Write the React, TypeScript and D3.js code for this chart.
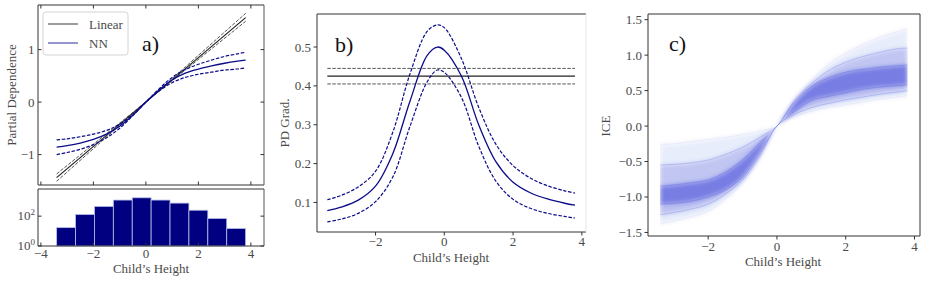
import React from "react";
import * as d3 from "d3";

// ---- data ----
const gridX = [-3.4, -3, -2.5, -2, -1.5, -1, -0.5, 0, 0.5, 1, 1.5, 2, 2.5, 3, 3.5, 3.8];

// panel a: partial dependence
const linearX = [-3.4, 3.8];
const linearMid = [-1.44, 1.61];
const linearHi = [-1.51, 1.69];
const linearLo = [-1.37, 1.54];
const nnMid = [-0.86, -0.83, -0.78, -0.71, -0.61, -0.46, -0.25, 0, 0.23, 0.42, 0.55, 0.63, 0.69, 0.74, 0.78, 0.8];
const nnHi = [-0.72, -0.7, -0.66, -0.61, -0.54, -0.42, -0.24, 0, 0.25, 0.47, 0.62, 0.72, 0.8, 0.87, 0.92, 0.95];
const nnLo = [-1.0, -0.96, -0.9, -0.81, -0.68, -0.5, -0.26, 0, 0.21, 0.37, 0.47, 0.53, 0.57, 0.61, 0.63, 0.65];

// panel a: histogram of child's height
const binEdges = [-3.4, -2.68, -1.96, -1.24, -0.52, 0.2, 0.92, 1.64, 2.36, 3.08, 3.8];
const binCounts = [17, 130, 450, 1200, 1700, 1200, 750, 250, 70, 15];

// panel b: PD gradient
const gradX = [-3.4, -3, -2.5, -2, -1.5, -1, -0.5, -0.2, 0, 0.5, 1, 1.5, 2, 2.5, 3, 3.5, 3.8];
const gradMid = [0.079, 0.088, 0.106, 0.142, 0.225, 0.36, 0.478, 0.5, 0.492, 0.425, 0.3, 0.205, 0.152, 0.125, 0.109, 0.098, 0.093];
const gradHi = [0.107, 0.118, 0.14, 0.18, 0.28, 0.43, 0.54, 0.557, 0.55, 0.47, 0.345, 0.25, 0.195, 0.163, 0.143, 0.13, 0.124];
const gradLo = [0.05, 0.057, 0.072, 0.102, 0.165, 0.295, 0.41, 0.441, 0.435, 0.37, 0.245, 0.155, 0.108, 0.085, 0.072, 0.064, 0.06];
const linGrad = [0.425, 0.445, 0.405];

// panel c: ICE spread, boundaries ordered top to bottom by value
const iceBounds = [
  [-0.26, -0.25, -0.22, -0.19, -0.16, -0.12, -0.07, 0, 0.37, 0.64, 0.87, 1.03, 1.15, 1.25, 1.33, 1.37],
  [-0.55, -0.54, -0.52, -0.48, -0.4, -0.3, -0.16, 0, 0.35, 0.6, 0.78, 0.9, 0.98, 1.04, 1.09, 1.1],
  [-0.85, -0.83, -0.8, -0.76, -0.65, -0.48, -0.24, 0, 0.33, 0.56, 0.68, 0.76, 0.8, 0.83, 0.85, 0.86],
  [-1.1, -1.09, -1.06, -1.0, -0.9, -0.72, -0.38, 0, 0.2, 0.36, 0.42, 0.47, 0.52, 0.55, 0.57, 0.58],
  [-1.25, -1.22, -1.17, -1.1, -0.96, -0.76, -0.42, 0, 0.16, 0.26, 0.32, 0.37, 0.41, 0.45, 0.48, 0.5],
  [-1.38, -1.34, -1.28, -1.2, -1.03, -0.8, -0.45, 0, 0.13, 0.21, 0.26, 0.3, 0.34, 0.38, 0.41, 0.43],
];
const iceBandAlpha = [0.09, 0.28, 0.6, 0.3, 0.1];

const ticksA = [-4, -2, 0, 2, 4];
const ticksAY = [-1, 0, 1];
const ticksBX = [-2, 0, 2, 4];
const ticksBY = [0.1, 0.2, 0.3, 0.4, 0.5];
const ticksCY = [-1.5, -1.0, -0.5, 0.0, 0.5, 1.0, 1.5];

const FONT = "Liberation Serif";
const GRAY = "#4a4a4a";
const NAVY = "#0b0b8a";
const ICEBLUE = "#1a2ad0";
const fmt = (v: number) => (v < 0 ? "\u2212" : "") + Math.abs(v);
const fmt1 = (v: number) => (v < 0 ? "\u2212" : "") + Math.abs(v).toFixed(1);
const txt = { fontFamily: FONT };

const Spines = ({ x0, x1, y0, y1, right = "#333" }: any) => (
  <g fill="none" strokeWidth={1}>
    <line x1={x0} x2={x1} y1={y0} y2={y0} stroke="#333" />
    <line x1={x0} x2={x1} y1={y1} y2={y1} stroke="#333" />
    <line x1={x0} x2={x0} y1={y0} y2={y1} stroke="#333" />
    <line x1={x1} x2={x1} y1={y0} y2={y1} stroke={right} />
  </g>
);

const PanelA = () => {
  const x = d3.scaleLinear().domain([-4.11, 4.5]).range([38, 264]);
  const y = d3.scaleLinear().domain([-1.58, 1.85]).range([185, 5]);
  const yh = d3.scaleLog().domain([1, 6600]).range([246, 189]);
  const line = d3.line<number>().x((_, i) => x(gridX[i])).y((d) => y(d)).curve(d3.curveCatmullRom);
  const lin = d3.line<number>().x((_, i) => x(linearX[i])).y((d) => y(d));
  const tl = 3.5;
  return (
    <g>
      <path d={lin(linearHi)!} fill="none" stroke="#555" strokeWidth={1} strokeDasharray="3.5,1.5" />
      <path d={lin(linearLo)!} fill="none" stroke="#555" strokeWidth={1} strokeDasharray="3.5,1.5" />
      <path d={lin(linearMid)!} fill="none" stroke="#222" strokeWidth={1.2} />
      <path d={line(nnHi)!} fill="none" stroke={NAVY} strokeWidth={1.2} strokeDasharray="3.5,1.6" />
      <path d={line(nnLo)!} fill="none" stroke={NAVY} strokeWidth={1.2} strokeDasharray="3.5,1.6" />
      <path d={line(nnMid)!} fill="none" stroke={NAVY} strokeWidth={1.3} />
      <Spines x0={38} x1={264} y0={5} y1={185} right="#555" />
      {ticksA.map((t) => (
        <g key={t} stroke="#333">
          <line x1={x(t)} x2={x(t)} y1={185} y2={185 - tl} />
          <line x1={x(t)} x2={x(t)} y1={5} y2={5 + tl} />
        </g>
      ))}
      {ticksAY.map((t) => (
        <g key={t}>
          <line x1={38} x2={38 + tl} y1={y(t)} y2={y(t)} stroke="#333" />
          <line x1={264} x2={264 - tl} y1={y(t)} y2={y(t)} stroke="#333" />
          <text x={34.5} y={y(t) + 4.5} textAnchor="end" fontSize={13} fill={GRAY} style={txt}>{fmt(t)}</text>
        </g>
      ))}
      <g>
        <rect x={43} y={12} width={85} height={43} rx={3} fill="white" fillOpacity={0.85} stroke="#d4d4d4" />
        <line x1={48} x2={78} y1={24} y2={24} stroke="#666" strokeWidth={1.3} />
        <line x1={48} x2={78} y1={43} y2={43} stroke="#5a5ab4" strokeWidth={1.3} />
        <text x={89} y={28.5} fontSize={13} fill={GRAY} style={txt}>Linear</text>
        <text x={89} y={47.5} fontSize={13} fill={GRAY} style={txt}>NN</text>
      </g>
      <text x={142} y={51} fontSize={22} fill="#111" style={txt}>a)</text>
      <text transform={`translate(16,95) rotate(-90)`} textAnchor="middle" fontSize={13} fill={GRAY} style={txt}>Partial Dependence</text>

      {binCounts.map((c, i) => (
        <rect key={i} x={x(binEdges[i])} width={x(binEdges[i + 1]) - x(binEdges[i])} y={yh(c)} height={246 - yh(c)}
          fill="#000080" stroke="#b8c0e8" strokeWidth={0.8} />
      ))}
      <Spines x0={38} x1={264} y0={189} y1={246} right="#555" />
      {ticksA.map((t) => (
        <g key={t}>
          <line x1={x(t)} x2={x(t)} y1={246} y2={246 - tl} stroke="#333" />
          <text x={x(t)} y={258} textAnchor="middle" fontSize={13} fill={GRAY} style={txt}>{fmt(t)}</text>
        </g>
      ))}
      {[0, 2].map((p) => (
        <g key={p}>
          <line x1={38} x2={38 + tl} y1={yh(10 ** p)} y2={yh(10 ** p)} stroke="#333" />
          <line x1={264} x2={264 - tl} y1={yh(10 ** p)} y2={yh(10 ** p)} stroke="#333" />
          <text x={35} y={yh(10 ** p) + 4} textAnchor="end" fontSize={13} fill={GRAY} style={txt}>
            10<tspan fontSize={9} dy={-5}>{p}</tspan>
          </text>
        </g>
      ))}
      <text x={151} y={273} textAnchor="middle" fontSize={13} fill={GRAY} style={txt}>Child’s Height</text>
    </g>
  );
};

const PanelB = () => {
  const x = d3.scaleLinear().domain([-3.7, 4.12]).range([317, 586]);
  const y = d3.scaleLinear().domain([0.024, 0.585]).range([232, 14]);
  const line = d3.line<number>().x((_, i) => x(gradX[i])).y((d) => y(d)).curve(d3.curveCatmullRom);
  return (
    <g>
      {linGrad.map((v, i) => (
        <line key={i} x1={x(-3.4)} x2={x(3.8)} y1={y(v)} y2={y(v)} stroke={i === 0 ? "#222" : "#555"}
          strokeWidth={i === 0 ? 1.2 : 1} strokeDasharray={i === 0 ? undefined : "3.5,1.5"} />
      ))}
      <path d={line(gradHi)!} fill="none" stroke={NAVY} strokeWidth={1.2} strokeDasharray="3.5,1.6" />
      <path d={line(gradLo)!} fill="none" stroke={NAVY} strokeWidth={1.2} strokeDasharray="3.5,1.6" />
      <path d={line(gradMid)!} fill="none" stroke={NAVY} strokeWidth={1.3} />
      <Spines x0={317} x1={586} y0={14} y1={232} right="#e6e6e6" />
      {ticksBX.map((t) => (
        <g key={t}>
          <line x1={x(t)} x2={x(t)} y1={232} y2={235.5} stroke="#333" />
          <text x={x(t)} y={246} textAnchor="middle" fontSize={13} fill={GRAY} style={txt}>{fmt(t)}</text>
        </g>
      ))}
      {ticksBY.map((t) => (
        <g key={t}>
          <line x1={317} x2={313.5} y1={y(t)} y2={y(t)} stroke="#333" />
          <text x={311} y={y(t) + 4.5} textAnchor="end" fontSize={13} fill={GRAY} style={txt}>{t.toFixed(1)}</text>
        </g>
      ))}
      <text x={335} y={52} fontSize={22} fill="#111" style={txt}>b)</text>
      <text transform={`translate(289,123) rotate(-90)`} textAnchor="middle" fontSize={13} fill={GRAY} style={txt}>PD Grad.</text>
      <text x={451} y={262} textAnchor="middle" fontSize={13} fill={GRAY} style={txt}>Child’s Height</text>
    </g>
  );
};

const PanelC = () => {
  const x = d3.scaleLinear().domain([-3.75, 4.16]).range([648, 920]);
  const y = d3.scaleLinear().domain([-1.55, 1.58]).range([236, 14]);
  const line = d3.line<number>().x((_, i) => x(gridX[i])).y((d) => y(d)).curve(d3.curveCatmullRom);
  const area = (top: number[], bot: number[]) =>
    d3.area<number>().x((_, i) => x(gridX[i])).y0((_, i) => y(bot[i])).y1((d) => y(d)).curve(d3.curveCatmullRom)(top)!;
  const x0 = x(gridX[0]);
  const x1 = x(gridX[gridX.length - 1]);
  return (
    <g>
      <defs>
        <filter id="iceBlur" x="-10%" y="-10%" width="120%" height="120%">
          <feGaussianBlur stdDeviation="2.2" />
        </filter>
        <clipPath id="iceClip">
          <rect x={x0} y={14} width={x1 - x0} height={222} />
        </clipPath>
      </defs>
      <g clipPath="url(#iceClip)">
        <g filter="url(#iceBlur)">
          {iceBandAlpha.map((a, i) => (
            <path key={i} d={area(iceBounds[i], iceBounds[i + 1])} fill={ICEBLUE} fillOpacity={a} />
          ))}
        </g>
        {iceBounds.map((b, i) => (
          <path key={i} d={line(b)!} fill="none" stroke={ICEBLUE} strokeOpacity={i === 0 || i === 5 ? 0.04 : 0.16} strokeWidth={1} />
        ))}
      </g>
      <Spines x0={648} x1={920} y0={14} y1={236} />
      {ticksBX.map((t) => (
        <g key={t}>
          <line x1={x(t)} x2={x(t)} y1={236} y2={239.5} stroke="#333" />
          <text x={x(t)} y={251} textAnchor="middle" fontSize={13} fill={GRAY} style={txt}>{fmt(t)}</text>
        </g>
      ))}
      {ticksCY.map((t) => (
        <g key={t}>
          <line x1={648} x2={644.5} y1={y(t)} y2={y(t)} stroke="#333" />
          <text x={642} y={y(t) + 4.5} textAnchor="end" fontSize={13} fill={GRAY} style={txt}>{fmt1(t)}</text>
        </g>
      ))}
      <text x={669} y={51} fontSize={22} fill="#111" style={txt}>c)</text>
      <text transform={`translate(610,126) rotate(-90)`} textAnchor="middle" fontSize={13} fill={GRAY} style={txt}>ICE</text>
      <text x={783} y={266} textAnchor="middle" fontSize={13} fill={GRAY} style={txt}>Child’s Height</text>
    </g>
  );
};

export default function App() {
  return (
    <svg width={934} height={283} style={{ position: "absolute", left: 0, top: 0, background: "white", fontFamily: FONT }}>
      <PanelA />
      <PanelB />
      <PanelC />
    </svg>
  );
}
